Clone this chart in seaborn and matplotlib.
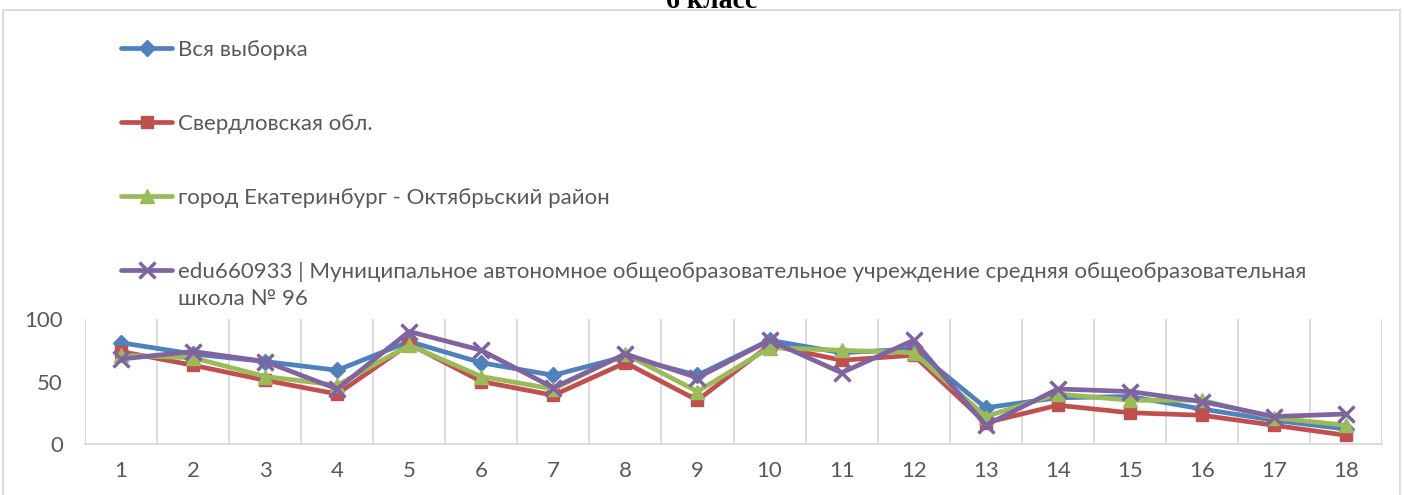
import matplotlib
matplotlib.use("Agg")
import matplotlib.pyplot as plt
import seaborn as sns
import pandas as pd
from matplotlib.lines import Line2D
from matplotlib.patches import Rectangle

tasks = list(range(1, 19))
vsya = [81, 72, 66, 59, 82, 65, 55, 70, 55, 83, 73, 76, 29, 37, 38, 28, 19, 12]
sverdl = [74, 63, 51, 40, 80, 50, 39, 65, 35, 79, 67, 71, 17, 31, 25, 23, 15, 7]
ekb = [71, 69, 54, 47, 79, 54, 44, 72, 42, 77, 75, 73, 22, 40, 35, 35, 21, 15]
school = [68, 74, 66, 44, 90, 75, 45, 72, 53, 83, 57, 83, 15, 44, 42, 34, 22, 24]

labels = [
    "Вся выборка",
    "Свердловская обл.",
    "город Екатеринбург - Октябрьский район",
    "edu660933 | Муниципальное автономное общеобразовательное учреждение средняя общеобразовательная",
]
label4_cont = "школа № 96"
title = "6 класс"
yticks = [0, 50, 100]

colors = ["#4F81BD", "#C0504D", "#9BBB59", "#8064A2"]
markers = ["D", "s", "^", "x"]
msizes = [8, 9, 10, 11]

sns.set_theme(style="white")
plt.rcParams["font.family"] = ["Lato", "DejaVu Sans"]

FS = 16
fig = plt.figure(figsize=(14.04, 4.95), dpi=100)
ax = fig.add_axes([85 / 1404, 1 - 444 / 495, (1382 - 85) / 1404, 125 / 495])

series = [vsya, sverdl, ekb, school]
handles = []
for vals, lab, c, m, ms in zip(series, labels, colors, markers, msizes):
    df = pd.DataFrame({"task": tasks, "val": vals})
    mew = 2.5 if m == "x" else 1
    sns.lineplot(data=df, x="task", y="val", ax=ax, color=c, linewidth=3.4,
                 marker=m, markersize=ms, markeredgecolor=c,
                 markeredgewidth=mew, legend=False)
    handles.append(Line2D([], [], color=c, linewidth=3.4, marker=m,
                          markersize=ms, markeredgecolor=c, markeredgewidth=mew))

ax.set_xlim(0.5, 18.5)
ax.set_ylim(0, 100)
ax.set_xticks(tasks)
ax.set_xticklabels([str(t) for t in tasks])
ax.set_yticks(yticks)
ax.set_xlabel("")
ax.set_ylabel("")
for xv in [t + 0.5 for t in range(0, 19)]:
    ax.axvline(xv, color="#D9D9D9", linewidth=1.3, zorder=0)
for s in ["top", "right", "left"]:
    ax.spines[s].set_visible(False)
ax.spines["bottom"].set_color("#D9D9D9")
ax.spines["bottom"].set_linewidth(1.3)
ax.tick_params(axis="both", length=0, labelsize=FS, colors="#595959")
ax.tick_params(axis="x", pad=12)
ax.tick_params(axis="y", pad=16)

leg = fig.legend(handles, labels, loc="upper left",
                 bbox_to_anchor=(121 / 1404, 1 - 40 / 495),
                 frameon=False, fontsize=FS, labelcolor="#595959",
                 handlelength=2.3, handletextpad=0.25, labelspacing=2.43,
                 borderpad=0, borderaxespad=0)

fig.canvas.draw()
t4 = leg.get_texts()[3]
bb = t4.get_window_extent()
fig.text(bb.x0 / fig.bbox.width, (bb.y0 - 27 + 0.5 * bb.height) / fig.bbox.height,
         label4_cont, ha="left", va="center", fontsize=FS, color="#595959")

fig.text(0.507, 1 - 8 / 495, title, ha="center", va="baseline",
         fontsize=20, fontweight="bold", family="Liberation Serif", color="black")

fig.patches.append(Rectangle((3 / 1404, -0.1), 1397 / 1404, 1.1 - 10 / 495,
                             transform=fig.transFigure, fill=False,
                             edgecolor="#D9D9D9", linewidth=1.3))

fig.savefig("out.png", dpi=100)
